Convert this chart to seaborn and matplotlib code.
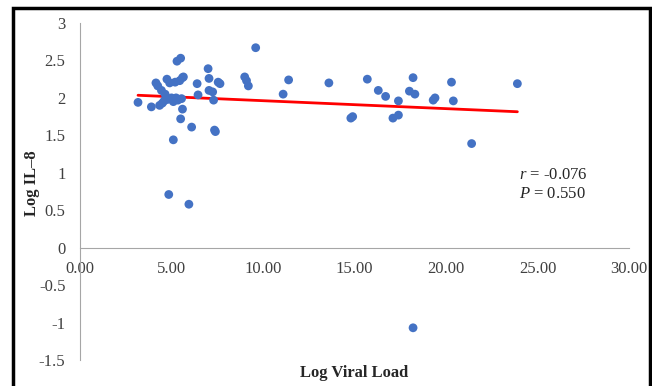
import numpy as np
import pandas as pd
import matplotlib
matplotlib.use("Agg")
import matplotlib.pyplot as plt
import seaborn as sns
from matplotlib.patches import Rectangle
from matplotlib.ticker import FormatStrFormatter, FuncFormatter

# values
viral_load = [3.17, 3.90, 4.15, 4.25, 4.35, 4.45, 4.50, 4.60, 4.65, 4.75,
              4.80, 4.90, 5.00, 5.10, 5.20, 5.25, 5.30, 5.35, 5.45, 5.50,
              5.55, 5.60, 5.65, 5.60, 5.50, 5.10, 6.10, 6.40, 6.45, 7.00,
              7.05, 7.05, 7.25, 7.30, 7.40, 7.35, 7.55, 7.65, 9.00, 9.10,
              9.20, 9.60, 11.10, 11.40, 13.60, 14.80, 14.90, 15.70, 16.30, 16.70,
              17.10, 17.40, 17.40, 18.00, 18.20, 18.30, 19.30, 19.40, 20.30, 20.40,
              21.40, 23.90, 18.20, 4.85, 5.95]
il8 = [1.94, 1.88, 2.20, 2.16, 1.90, 2.10, 1.93, 1.96, 2.05, 2.25,
       1.98, 2.20, 2.00, 1.95, 2.21, 2.00, 2.49, 1.97, 2.23, 2.53,
       1.99, 2.27, 2.28, 1.85, 1.72, 1.44, 1.61, 2.19, 2.04, 2.39,
       2.26, 2.10, 2.08, 1.97, 1.55, 1.57, 2.21, 2.19, 2.28, 2.23,
       2.16, 2.67, 2.05, 2.24, 2.20, 1.73, 1.75, 2.25, 2.10, 2.02,
       1.73, 1.77, 1.96, 2.09, 2.27, 2.05, 1.97, 2.00, 2.21, 1.96,
       1.39, 2.19, -1.07, 0.71, 0.58]

# trend line ends as drawn in the reference
fit_x = [3.17, 23.9]
fit_y = [2.035, 1.815]

x_ticks = [0, 5, 10, 15, 20, 25, 30]
y_ticks = [-1.5, -1, -0.5, 0, 0.5, 1, 1.5, 2, 2.5, 3]

sns.set_style("white")
plt.rcParams['font.family'] = ['Liberation Serif', 'DejaVu Serif']
plt.rcParams['axes.unicode_minus'] = False
plt.rcParams['mathtext.fontset'] = 'custom'
plt.rcParams['mathtext.it'] = 'Liberation Serif:italic'
plt.rcParams['mathtext.rm'] = 'Liberation Serif'

df = pd.DataFrame({"vl": viral_load, "il8": il8})
fit = pd.DataFrame({"x": fit_x, "y": fit_y})

fig = plt.figure(figsize=(6.52, 3.86), dpi=100)
ax = fig.add_axes([80 / 652, 1 - 360 / 386, 549 / 652, 337 / 386])

sns.scatterplot(data=df, x="vl", y="il8", ax=ax, color="#4472C4",
                s=40, edgecolor="none", zorder=3)
sns.lineplot(data=fit, x="x", y="y", ax=ax, color="#FF0000",
             linewidth=2.0, zorder=2)

ax.set_xlim(0, 30)
ax.set_ylim(-1.5, 3)
ax.set_xticks(x_ticks)
ax.set_yticks(y_ticks)
ax.xaxis.set_major_formatter(FormatStrFormatter('%.2f'))
ax.yaxis.set_major_formatter(FuncFormatter(lambda v, p: f"{v:g}"))

grey = "#A6A6A6"
for side in ["top", "right"]:
    ax.spines[side].set_visible(False)
ax.spines["left"].set_color(grey)
ax.spines["bottom"].set_color(grey)
ax.spines["bottom"].set_position(("data", 0))
ax.tick_params(axis="both", colors=grey, labelcolor="#404040",
               labelsize=12, length=3.5, width=0.8)
ax.tick_params(axis="y", pad=7)
ax.tick_params(axis="x", pad=6)

ax.set_xlabel("Log Viral Load", fontsize=12, fontweight="bold")
ax.set_ylabel("Log IL–8", fontsize=12, fontweight="bold")
ax.xaxis.set_label_coords(0.5, -0.015)
ax.yaxis.set_label_coords(-0.072, 0.525)

ax.text(24.0, 0.97, "$r$ = -0.076", fontsize=12, va="center", ha="left")
ax.text(24.0, 0.72, "$P$ = 0.550", fontsize=12, va="center", ha="left")

# black frame around the whole picture
fig.patches.append(Rectangle((12.5 / 652, -0.05), 637.5 / 652, 1.05 - 7.5 / 386,
                             transform=fig.transFigure, fill=False,
                             edgecolor="black", linewidth=2.5))

fig.savefig("out.png", dpi=100)
